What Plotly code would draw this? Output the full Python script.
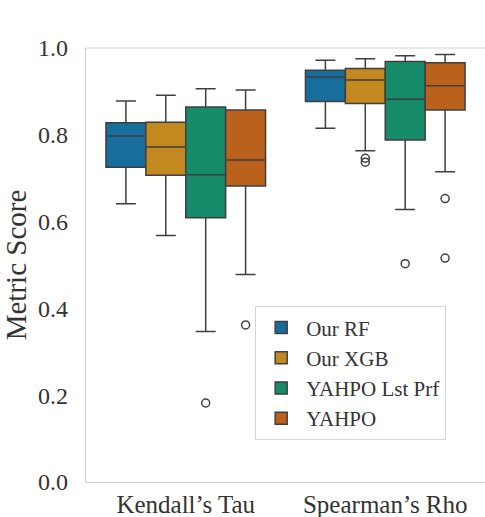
import plotly.graph_objects as go

metrics = ["Kendall’s Tau", "Spearman’s Rho"]
models = ["Our RF", "Our XGB", "YAHPO Lst Prf", "YAHPO"]
colors = ["#176d9c", "#c38820", "#168b6a", "#ba611b"]

# per model: [Kendall, Spearman]
lower = {
    "Our RF": [0.641, 0.815],
    "Our XGB": [0.568, 0.763],
    "YAHPO Lst Prf": [0.347, 0.628],
    "YAHPO": [0.478, 0.715],
}
q1 = {
    "Our RF": [0.725, 0.877],
    "Our XGB": [0.707, 0.872],
    "YAHPO Lst Prf": [0.609, 0.788],
    "YAHPO": [0.682, 0.857],
}
median = {
    "Our RF": [0.797, 0.933],
    "Our XGB": [0.772, 0.926],
    "YAHPO Lst Prf": [0.708, 0.882],
    "YAHPO": [0.742, 0.913],
}
q3 = {
    "Our RF": [0.828, 0.949],
    "Our XGB": [0.829, 0.953],
    "YAHPO Lst Prf": [0.864, 0.969],
    "YAHPO": [0.857, 0.966],
}
upper = {
    "Our RF": [0.878, 0.972],
    "Our XGB": [0.891, 0.975],
    "YAHPO Lst Prf": [0.906, 0.982],
    "YAHPO": [0.903, 0.985],
}
outliers = {
    "Our RF": [[], []],
    "Our XGB": [[], [0.746, 0.737]],
    "YAHPO Lst Prf": [[0.182], [0.503, 0.264]],
    "YAHPO": [[0.362], [0.653, 0.516]],
}

FONT = "Liberation Serif"
TXT = "#333333"
LINE = "#3f3f3f"

n = len(models)
group_w = 0.8
bw = group_w / n

fig = go.Figure()
for i, (m, c) in enumerate(zip(models, colors)):
    off = -group_w / 2 + bw * (i + 0.5)
    xs = [k + off for k in range(len(metrics))]
    fig.add_trace(go.Box(
        x=xs, q1=q1[m], median=median[m], q3=q3[m],
        lowerfence=lower[m], upperfence=upper[m],
        width=bw, whiskerwidth=0.5, fillcolor=c,
        line=dict(color=LINE, width=1.5), boxpoints=False,
        name=m, hoverinfo="skip",
    ))
for i, m in enumerate(models):
    off = -group_w / 2 + bw * (i + 0.5)
    ox, oy = [], []
    for k in range(len(metrics)):
        for v in outliers[m][k]:
            ox.append(k + off)
            oy.append(v)
    if ox:
        fig.add_trace(go.Scatter(
            x=ox, y=oy, mode="markers", showlegend=False, hoverinfo="skip",
            marker=dict(symbol="circle-open", size=8, color=LINE, line=dict(width=1.5)),
        ))

fig.update_layout(
    width=485, height=517,
    margin=dict(l=86, r=0, t=48, b=35),
    paper_bgcolor="white", plot_bgcolor="white",
    font=dict(family=FONT, color=TXT, size=21),
    boxmode="overlay",
    showlegend=True,
    legend=dict(
        x=0.424, y=0.405, xanchor="left", yanchor="top",
        bgcolor="white", bordercolor="#d5d5d5", borderwidth=1,
        font=dict(family=FONT, size=21, color=TXT),
        tracegroupgap=0, itemwidth=40,
    ),
    shapes=[dict(type="line", xref="paper", yref="paper", x0=0, x1=1, y0=1, y1=1,
                 line=dict(color="#d0d0d0", width=1.2))],
)
fig.update_xaxes(
    range=[-0.5, 1.5], tickvals=list(range(len(metrics))), ticktext=metrics,
    showgrid=False, zeroline=False, showline=True, linecolor="#d0d0d0", linewidth=1.2,
    ticks="", automargin=False,
    tickfont=dict(family=FONT, size=25, color=TXT),
)
fig.update_yaxes(
    range=[0, 1.0], tickvals=[0, 0.2, 0.4, 0.6, 0.8, 1.0],
    ticktext=["0.0", "0.2", "0.4", "0.6", "0.8", "1.0"],
    showgrid=False, zeroline=False, showline=True, linecolor="#d0d0d0", linewidth=1.2,
    ticks="outside", ticklen=12, tickcolor="rgba(0,0,0,0)", automargin=False,
    tickfont=dict(family=FONT, size=24, color=TXT),
    title=dict(text="Metric Score", font=dict(family=FONT, size=29, color=TXT), standoff=6),
)

fig.write_html("out.html")
